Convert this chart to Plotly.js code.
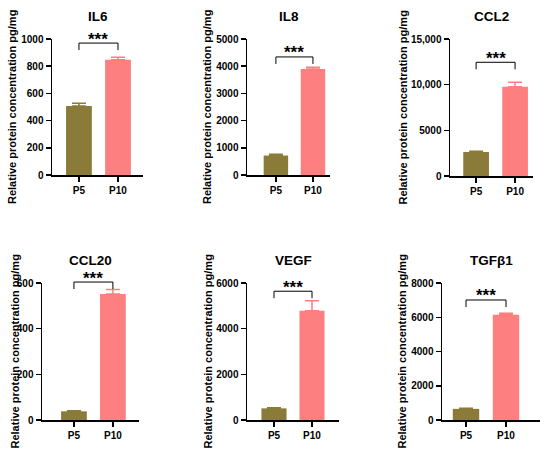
<!DOCTYPE html>
<html>
<head>
<meta charset="utf-8">
<script src="https://cdn.plot.ly/plotly-3.0.1.min.js"></script>
<style>html,body{margin:0;padding:0;background:#fff;}#chart{width:550px;height:457px;}</style>
</head>
<body>
<div id="chart"></div>
<script>
// ---- data ----
const categories = ['P5', 'P10'];
const titles = ['IL6', 'IL8', 'CCL2', 'CCL20', 'VEGF', 'TGFβ1'];

const il6Mean = [508, 848];     const il6Err = [20, 18];
const il8Mean = [715, 3900];    const il8Err = [50, 60];
const ccl2Mean = [2630, 9780];  const ccl2Err = [80, 480];
const ccl20Mean = [38, 552];    const ccl20Err = [3, 20];
const vegfMean = [510, 4790];   const vegfErr = [30, 430];
const tgfMean = [650, 6140];    const tgfErr = [30, 90];

const il6Ticks = [0, 200, 400, 600, 800, 1000];
const il8Ticks = [0, 1000, 2000, 3000, 4000, 5000];
const ccl2Ticks = [0, 5000, 10000, 15000];
const ccl2TickText = ['0', '5000', '10,000', '15,000'];
const ccl20Ticks = [0, 200, 400, 600];
const vegfTicks = [0, 2000, 4000, 6000];
const tgfTicks = [0, 2000, 4000, 6000, 8000];
const yLabel = 'Relative protein concentration pg/mg';
const sigText = '***';

// ---- layout geometry (pixels) ----
const W = 550, H = 457;
const FONT = 'Arial, "Liberation Sans", sans-serif';
const c5 = '#8a7b38', c10 = '#fe7f7f';

const panels = [
  {mean: il6Mean, err: il6Err, ticks: il6Ticks, text: null, x0: 52, x1: 143, top: 39, bot: 175, xr: [-0.69, 1.64], lab: 12, br: 0.97},
  {mean: il8Mean, err: il8Err, ticks: il8Ticks, text: null, x0: 247, x1: 330, top: 39, bot: 175, xr: [-0.78, 1.46], lab: 207, br: 0.868},
  {mean: ccl2Mean, err: ccl2Err, ticks: ccl2Ticks, text: ccl2TickText, x0: 450, x1: 533, top: 39, bot: 176, xr: [-0.67, 1.46], lab: 402, br: 0.83},
  {mean: ccl20Mean, err: ccl20Err, ticks: ccl20Ticks, text: null, x0: 42, x1: 139, top: 283, bot: 420, xr: [-0.82, 1.67], lab: 14, br: 1.007},
  {mean: vegfMean, err: vegfErr, ticks: vegfTicks, text: null, x0: 247, x1: 339, top: 283, bot: 420, xr: [-0.71, 1.71], lab: 207, br: 0.94},
  {mean: tgfMean, err: tgfErr, ticks: tgfTicks, text: null, x0: 442, x1: 540, top: 283, bot: 420, xr: [-0.6, 1.85], lab: 401, br: 0.876}
];

const data = [];
const layout = {
  width: W, height: H,
  margin: {l: 0, r: 0, t: 0, b: 0},
  paper_bgcolor: '#fff', plot_bgcolor: '#fff',
  showlegend: false, barmode: 'overlay',
  font: {family: FONT, color: '#000'},
  annotations: [], shapes: []
};

panels.forEach((p, i) => {
  const n = i + 1;
  const xa = 'x' + (n === 1 ? '' : n), ya = 'y' + (n === 1 ? '' : n);
  const xk = 'xaxis' + (n === 1 ? '' : n), yk = 'yaxis' + (n === 1 ? '' : n);
  // one trace per category so each error bar takes its bar's colour
  categories.forEach((cat, j) => {
    const col = j === 0 ? c5 : c10;
    data.push({
      type: 'bar', x: [cat], y: [p.mean[j]], xaxis: xa, yaxis: ya,
      width: 0.66,
      marker: {color: col, line: {width: 0}},
      error_y: {type: 'data', array: [p.err[j]], arrayminus: [0], symmetric: false,
                color: col, thickness: 1.5, width: 7, visible: true},
      hoverinfo: 'none'
    });
  });
  const ymax = p.ticks[p.ticks.length - 1];
  const tickfont = {family: FONT, size: 10, color: '#000', weight: 700};
  layout[xk] = {
    domain: [p.x0 / W, p.x1 / W], anchor: ya, range: p.xr,
    type: 'category', categoryarray: categories, categoryorder: 'array',
    showline: true, linecolor: '#000', linewidth: 1.5,
    ticks: 'outside', ticklen: 5, tickwidth: 1.5, tickcolor: '#000',
    tickfont: tickfont, showgrid: false, zeroline: false, fixedrange: true
  };
  layout[yk] = {
    domain: [1 - p.bot / H, 1 - p.top / H], anchor: xa, range: [0, ymax],
    showline: true, linecolor: '#000', linewidth: 1.5,
    ticks: 'outside', ticklen: 5, tickwidth: 1.5, tickcolor: '#000',
    tickfont: tickfont, showgrid: false, zeroline: false, fixedrange: true,
    tickmode: 'array', tickvals: p.ticks,
    ticktext: p.text ? p.text : p.ticks.map(String)
  };

  // panel title
  layout.annotations.push({
    text: titles[i], xref: 'paper', yref: 'paper',
    x: (p.x0 + p.x1) / 2 / W, y: 1 - (p.top - 23) / H,
    xanchor: 'center', yanchor: 'middle', showarrow: false,
    font: {family: FONT, size: 13.5, color: '#000', weight: 700}
  });
  // y label
  layout.annotations.push({
    text: yLabel, xref: 'paper', yref: 'paper', textangle: -90,
    x: p.lab / W, y: 1 - (p.top + p.bot) / 2 / H,
    xanchor: 'center', yanchor: 'middle', showarrow: false,
    font: {family: FONT, size: 11, color: '#000', weight: 700}
  });
  // significance bracket
  const drop = 7 / (p.bot - p.top);
  const lineStyle = {color: '#000', width: 1};
  layout.shapes.push({type: 'line', xref: xa, yref: ya + ' domain', x0: 0, x1: 1, y0: p.br, y1: p.br, line: lineStyle});
  layout.shapes.push({type: 'line', xref: xa, yref: ya + ' domain', x0: 0, x1: 0, y0: p.br, y1: p.br - drop, line: lineStyle});
  layout.shapes.push({type: 'line', xref: xa, yref: ya + ' domain', x0: 1, x1: 1, y0: p.br, y1: p.br - drop, line: lineStyle});
  layout.annotations.push({
    text: sigText, xref: xa, yref: ya + ' domain', x: 0.5, y: p.br,
    xanchor: 'center', yanchor: 'middle', yshift: 4, showarrow: false,
    font: {family: FONT, size: 17, color: '#000', weight: 700}
  });
});

Plotly.newPlot('chart', data, layout, {displayModeBar: false, staticPlot: true});
</script>
</body>
</html>
